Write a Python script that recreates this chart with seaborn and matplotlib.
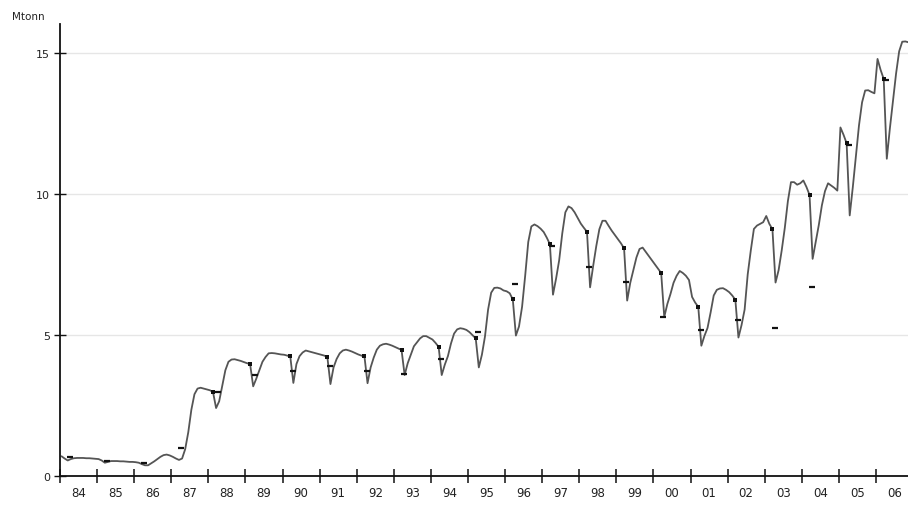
import numpy as np
import pandas as pd
import matplotlib
matplotlib.use("Agg")
import matplotlib.pyplot as plt
from matplotlib.ticker import FixedLocator, NullFormatter, FixedFormatter
import seaborn as sns

# Monthly values (Mtonn), January..December for each year
m1984 = [0.70, 0.62, 0.55, 0.60, 0.63, 0.64, 0.64, 0.64, 0.63, 0.63, 0.62, 0.61]
m1985 = [0.60, 0.55, 0.47, 0.50, 0.53, 0.53, 0.53, 0.52, 0.52, 0.51, 0.50, 0.50]
m1986 = [0.49, 0.47, 0.42, 0.38, 0.38, 0.45, 0.52, 0.60, 0.68, 0.74, 0.76, 0.73]
m1987 = [0.68, 0.62, 0.57, 0.62, 0.95, 1.55, 2.35, 2.90, 3.10, 3.13, 3.10, 3.07]
m1988 = [3.04, 2.98, 2.41, 2.65, 3.20, 3.75, 4.05, 4.13, 4.14, 4.11, 4.08, 4.04]
m1989 = [4.00, 3.97, 3.18, 3.45, 3.75, 4.05, 4.22, 4.35, 4.36, 4.35, 4.33, 4.31]
m1990 = [4.30, 4.27, 4.24, 3.30, 3.97, 4.25, 4.38, 4.45, 4.42, 4.39, 4.36, 4.33]
m1991 = [4.30, 4.27, 4.22, 3.26, 3.85, 4.15, 4.35, 4.45, 4.48, 4.45, 4.41, 4.36]
m1992 = [4.31, 4.27, 4.24, 3.29, 3.85, 4.20, 4.48, 4.62, 4.67, 4.69, 4.66, 4.62]
m1993 = [4.57, 4.52, 4.47, 3.58, 4.00, 4.30, 4.60, 4.74, 4.88, 4.96, 4.96, 4.90]
m1994 = [4.84, 4.72, 4.58, 3.58, 3.95, 4.25, 4.70, 5.05, 5.20, 5.24, 5.22, 5.18]
m1995 = [5.10, 4.99, 4.88, 3.85, 4.30, 4.95, 5.90, 6.50, 6.67, 6.68, 6.65, 6.58]
m1996 = [6.55, 6.48, 6.26, 4.98, 5.30, 6.00, 7.10, 8.30, 8.85, 8.92, 8.86, 8.77]
m1997 = [8.65, 8.45, 8.22, 6.43, 7.00, 7.65, 8.60, 9.35, 9.56, 9.50, 9.35, 9.15]
m1998 = [8.95, 8.80, 8.66, 6.69, 7.45, 8.15, 8.75, 9.05, 9.05, 8.87, 8.70, 8.55]
m1999 = [8.40, 8.25, 8.07, 6.22, 6.85, 7.30, 7.75, 8.05, 8.10, 7.95, 7.80, 7.65]
m2000 = [7.50, 7.35, 7.20, 5.64, 6.10, 6.45, 6.85, 7.10, 7.27, 7.20, 7.10, 6.95]
m2001 = [6.35, 6.15, 6.00, 4.62, 4.97, 5.25, 5.80, 6.40, 6.60, 6.65, 6.66, 6.60]
m2002 = [6.52, 6.40, 6.25, 4.91, 5.35, 5.90, 7.15, 8.00, 8.76, 8.88, 8.94, 9.00]
m2003 = [9.22, 8.94, 8.75, 6.86, 7.30, 8.00, 8.80, 9.75, 10.42, 10.42, 10.33, 10.38]
m2004 = [10.48, 10.25, 9.97, 7.70, 8.30, 8.90, 9.60, 10.10, 10.38, 10.30, 10.22, 10.12]
m2005 = [12.36, 12.10, 11.80, 9.24, 10.24, 11.34, 12.43, 13.25, 13.67, 13.68, 13.62, 13.57]
m2006 = [14.79, 14.40, 14.08, 11.25, 12.33, 13.31, 14.27, 15.06, 15.40, 15.41, 15.38]

monthly_values = [m1984, m1985, m1986, m1987, m1988, m1989, m1990, m1991,
                  m1992, m1993, m1994, m1995, m1996, m1997, m1998, m1999,
                  m2000, m2001, m2002, m2003, m2004, m2005, m2006]
years = list(range(1984, 2007))

# Separate annual figures, shown as short dashes in early spring
annual_years = years
annual_values = [0.66, 0.54, 0.45, 0.98, 2.99, 3.59, 3.73, 3.89, 3.73, 3.62,
                 4.15, 5.12, 6.81, 8.14, 7.42, 6.89, 5.63, 5.19, 5.53, 5.24,
                 6.69, 11.74, 14.06]

year_labels = ["84", "85", "86", "87", "88", "89", "90", "91", "92", "93", "94",
               "95", "96", "97", "98", "99", "00", "01", "02", "03", "04", "05", "06"]

# Long table of the monthly series on a decimal-year axis
rows = []
for yr, vals in zip(years, monthly_values):
    for m, v in enumerate(vals):
        rows.append({"t": yr + (m + 0.5) / 12.0, "mtonn": v})
df = pd.DataFrame(rows)

# Last month before each year's spring low (from 1988 on)
knee_rows = []
for yr, vals in zip(years, monthly_values):
    if yr < 1988:
        continue
    low = int(np.argmin(vals[1:5])) + 1
    k = low - 1
    knee_rows.append({"t": yr + (k + 0.5) / 12.0, "mtonn": vals[k]})
knees = pd.DataFrame(knee_rows)

annual = pd.DataFrame({"t": [y + 0.27 for y in annual_years], "mtonn": annual_values})

sns.set_style("white")
plt.rcParams["font.family"] = ["DejaVu Sans"]

W, H = 908, 506
fig = plt.figure(figsize=(W / 100, H / 100), dpi=100)
ax = fig.add_axes([60 / W, 29 / H, 848 / W, 452 / H])

sns.lineplot(data=df, x="t", y="mtonn", ax=ax, color="#555555", lw=1.3,
             estimator=None, sort=True)
ax.scatter(knees["t"], knees["mtonn"], marker="s", s=7, color="#111111",
           zorder=4, linewidths=0)
ax.scatter(annual["t"], annual["mtonn"], marker="_", s=14, color="#111111",
           zorder=5, linewidths=1.6)

ax.set_xlim(1984, 1984 + 848 / 37.09)
ax.set_ylim(0, 452 / 28.2)

for s in ("top", "right"):
    ax.spines[s].set_visible(False)
for s in ("left", "bottom"):
    ax.spines[s].set_color("#111111")
    ax.spines[s].set_linewidth(1.3)

ax.set_yticks([0, 5, 10, 15])
ax.set_yticklabels(["0", "5", "10", "15"])
ax.yaxis.grid(True, color="#e6e6e6", lw=1)
ax.xaxis.grid(False)
ax.tick_params(axis="y", left=True, direction="inout", length=8, width=1, pad=3,
               labelsize=8, colors="#111111", labelcolor="#222222")

ax.xaxis.set_major_locator(FixedLocator(years))
ax.xaxis.set_major_formatter(NullFormatter())
ax.xaxis.set_minor_locator(FixedLocator([y + 0.5 for y in years]))
ax.xaxis.set_minor_formatter(FixedFormatter(year_labels))
ax.tick_params(axis="x", which="major", bottom=True, direction="inout",
               length=10, width=1.1, colors="#111111")
ax.tick_params(axis="x", which="minor", bottom=True, length=0, pad=7,
               labelsize=8.5, labelcolor="#222222")

ax.set_xlabel("")
ax.set_ylabel("")
fig.text(12 / W, 1 - 17 / H, "Mtonn", fontsize=7.5, color="#222222",
         ha="left", va="center")

fig.savefig("out.png", dpi=100, facecolor="white")
